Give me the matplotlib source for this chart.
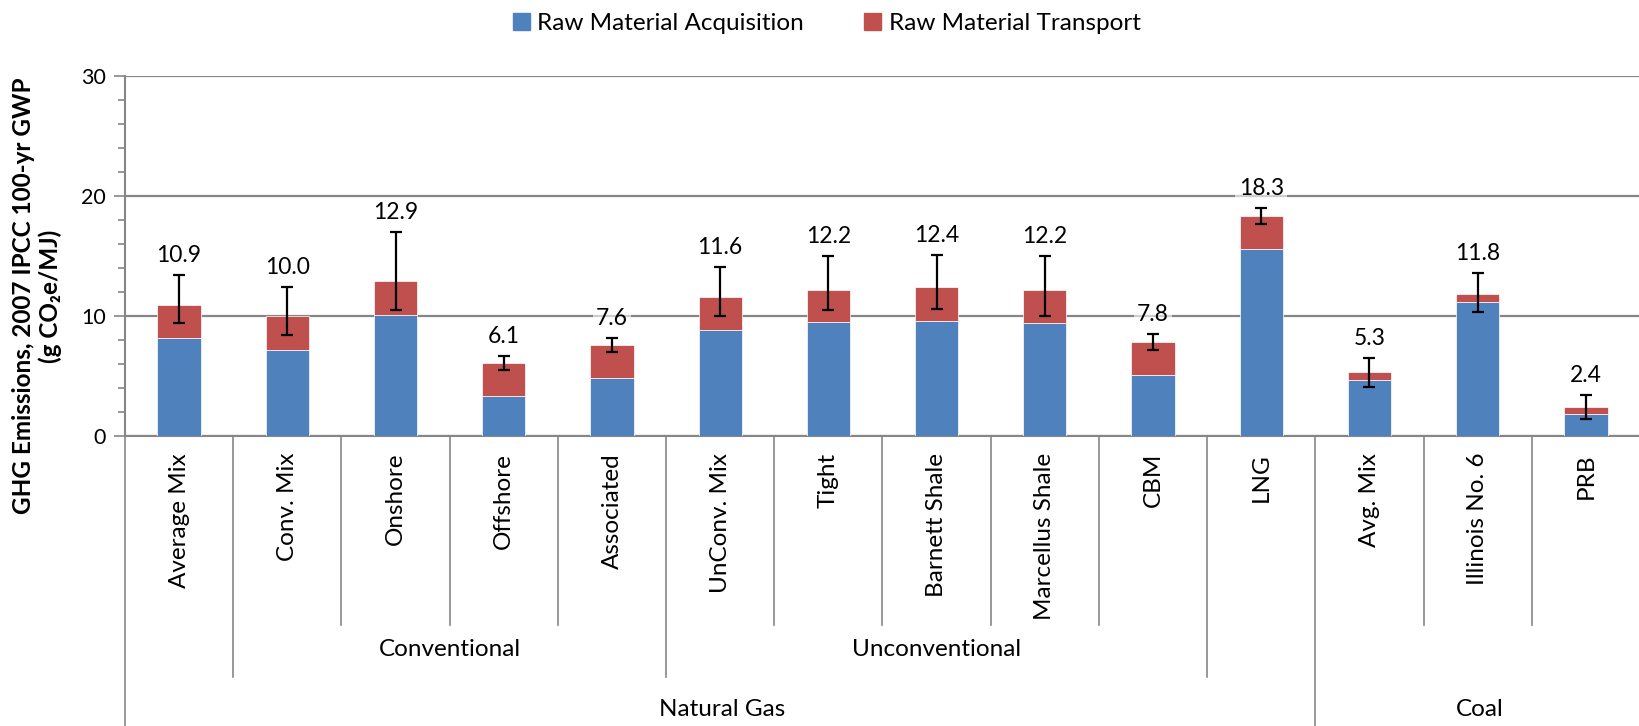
import numpy as np
import matplotlib
matplotlib.use("Agg")
import matplotlib.pyplot as plt
import matplotlib.transforms as mtransforms
from matplotlib.lines import Line2D
from matplotlib.patches import Patch

# data (g CO2e/MJ)
categories = ["Average Mix", "Conv. Mix", "Onshore", "Offshore", "Associated",
              "UnConv. Mix", "Tight", "Barnett Shale", "Marcellus Shale", "CBM",
              "LNG", "Avg. Mix", "Illinois No. 6", "PRB"]
acquisition = [8.2, 7.2, 10.1, 3.3, 4.8, 8.8, 9.5, 9.6, 9.4, 5.1, 15.6, 4.7, 11.2, 1.8]
totals = [10.9, 10.0, 12.9, 6.1, 7.6, 11.6, 12.2, 12.4, 12.2, 7.8, 18.3, 5.3, 11.8, 2.4]
err_low = [9.4, 8.4, 10.5, 5.5, 7.0, 10.0, 10.5, 10.6, 10.0, 7.2, 17.7, 4.1, 10.3, 1.4]
err_high = [13.4, 12.4, 17.0, 6.7, 8.2, 14.1, 15.0, 15.1, 15.0, 8.5, 19.0, 6.5, 13.6, 3.4]

# (label, first index, last index)
level2 = [("", 0, 0), ("Conventional", 1, 4), ("Unconventional", 5, 9),
          ("", 10, 10), ("", 11, 13)]
level3 = [("Natural Gas", 0, 10), ("Coal", 11, 13)]

blue = "#4F81BD"
red = "#C0504D"
grey = "#868686"
calibri = ["Lato", "DejaVu Sans"]

transport = np.array(totals) - np.array(acquisition)
x = np.arange(len(categories))

fig = plt.figure(figsize=(16.4, 7.26), dpi=100)
ax = fig.add_axes([125 / 1640, 290 / 726, 1 - 125 / 1640, 360 / 726])

ax.bar(x, acquisition, width=0.4, color=blue, edgecolor="white", linewidth=0.5, zorder=3)
ax.bar(x, transport, width=0.4, bottom=acquisition, color=red, edgecolor="white",
       linewidth=0.5, zorder=3)

tot = np.array(totals)
yerr = [tot - np.array(err_low), np.array(err_high) - tot]
ax.errorbar(x, tot, yerr=yerr, fmt="none", ecolor="black", elinewidth=1.6,
            capsize=4.5, capthick=1.6, zorder=4)

for i in x:
    ax.annotate(f"{totals[i]:.1f}", (i, err_high[i]), xytext=(0, 14),
                textcoords="offset points", ha="center", va="center",
                fontsize=16.5, family=calibri, zorder=5,
                bbox=dict(boxstyle="square,pad=0.15", fc="white", ec="none", alpha=0.6))

ax.set_xlim(-0.5, len(categories) - 0.5)
ax.set_ylim(0, 30)
ax.set_yticks([0, 10, 20, 30])
ax.set_yticks(np.arange(0, 31, 2), minor=True)
ax.set_yticklabels(["0", "10", "20", "30"], fontsize=15.5, family=calibri)
ax.tick_params(axis="y", which="major", length=8, width=1.2, color=grey, pad=6)
ax.tick_params(axis="y", which="minor", length=5, width=1.2, color=grey)
ax.set_xticks([])
ax.grid(axis="y", color=grey, linewidth=1.6, zorder=0)
ax.set_axisbelow(True)
for s in ["top", "right"]:
    ax.spines[s].set_visible(False)
for s in ["left", "bottom"]:
    ax.spines[s].set_color(grey)
    ax.spines[s].set_linewidth(1.5)

fig.text(37 / 1640, 1 - 296 / 726, "GHG Emissions, 2007 IPCC 100-yr GWP\n(g CO\u2082e/MJ)",
         rotation=90, ha="center", va="center", multialignment="center",
         fontsize=17.5, fontweight="bold", family=calibri, linespacing=1.15)

# multi-level category axis
tr = mtransforms.blended_transform_factory(ax.transData, ax.transAxes)
y1, y2, y3 = -0.525, -0.669, -0.806

for i, name in enumerate(categories):
    ax.text(i, -0.047, name, rotation=90, ha="center", va="top", fontsize=17.5,
            family=calibri, transform=tr)

bound2 = {g[1] - 0.5 for g in level2}
bound3 = {g[1] - 0.5 for g in level3}
for k in range(len(categories)):
    b = k - 0.5
    if b in bound3:
        bottom = y3
    elif b in bound2:
        bottom = y2
    else:
        bottom = y1
    ax.add_line(Line2D([b, b], [0, bottom], transform=tr, color=grey, lw=1.2,
                       clip_on=False))

for name, a, b in level2:
    if name:
        ax.text((a + b) / 2, (y1 + y2) / 2 + 0.003, name, ha="center", va="center",
                fontsize=17.5, family=calibri, transform=tr)
for name, a, b in level3:
    ax.text((a + b) / 2 + 0.02, -0.761, name, ha="center", va="center",
            fontsize=17.5, family=calibri, transform=tr)

handles = [Patch(color=blue, label="Raw Material Acquisition"),
           Patch(color=red, label="Raw Material Transport")]
fig.legend(handles=handles, loc="center", bbox_to_anchor=(0.504, 0.968), ncol=2,
           frameon=False, prop={"family": calibri, "size": 17.5},
           handlelength=0.7, handleheight=0.7, columnspacing=2.5, handletextpad=0.3)

fig.savefig("out.png", dpi=100)
